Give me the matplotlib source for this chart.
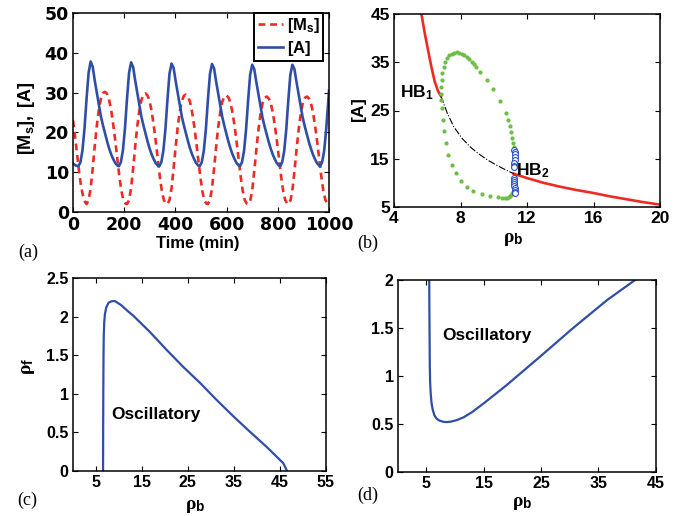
import matplotlib
matplotlib.use('Agg')
import matplotlib.pyplot as plt
from matplotlib.ticker import FuncFormatter

plt.rcParams['font.family'] = ['Liberation Sans', 'DejaVu Sans']
plt.rcParams['font.weight'] = 'bold'
plt.rcParams['axes.labelweight'] = 'bold'
plt.rcParams['mathtext.fontset'] = 'custom'
plt.rcParams['mathtext.rm'] = 'Liberation Serif'
plt.rcParams['mathtext.it'] = 'Liberation Serif:italic'
plt.rcParams['mathtext.bf'] = 'Liberation Sans:bold'
plt.rcParams['axes.linewidth'] = 1.1

# ---------------- data: panel (a) time series ----------------
t_A = [0, 10,
       21, 29, 37, 45, 53, 61, 69, 77, 85, 93, 101, 109, 117, 125, 133, 141, 149, 157, 165, 173,
       179, 187, 195, 203, 211, 219, 227, 235, 243, 251, 259, 267, 275, 283, 291, 299, 307, 315, 323, 331,
       337, 345, 353, 361, 369, 377, 385, 393, 401, 409, 417, 425, 433, 441, 449, 457, 465, 473, 481, 489,
       495, 503, 511, 519, 527, 535, 543, 551, 559, 567, 575, 583, 591, 599, 607, 615, 623, 631, 639, 647,
       652, 660, 668, 676, 684, 692, 700, 708, 716, 724, 732, 740, 748, 756, 764, 772, 780, 788, 796, 804,
       809, 817, 825, 833, 841, 849, 857, 865, 873, 881, 889, 897, 905, 913, 921, 929, 937, 945, 953, 961,
       965, 973, 981, 989, 997, 1000]
A_vals = [12.2, 11.7,
          11.5, 12.5, 15.5, 21.0, 28.5, 35.0, 37.8, 36.5, 33.0, 30.0, 27.0, 24.0, 21.8, 19.8, 17.8, 16.0, 14.5, 13.3, 12.3, 11.7,
          11.5, 12.5, 15.5, 21.0, 28.5, 35.0, 37.6, 36.4, 33.0, 30.0, 27.0, 24.0, 21.8, 19.8, 17.8, 16.0, 14.5, 13.3, 12.3, 11.7,
          11.5, 12.5, 15.4, 20.8, 28.3, 34.8, 37.3, 36.2, 32.9, 29.9, 26.9, 24.0, 21.8, 19.8, 17.8, 16.0, 14.5, 13.3, 12.3, 11.7,
          11.5, 12.5, 15.4, 20.8, 28.2, 34.7, 37.2, 36.1, 32.8, 29.8, 26.8, 23.9, 21.7, 19.7, 17.7, 16.0, 14.5, 13.3, 12.3, 11.7,
          11.5, 12.5, 15.3, 20.7, 28.0, 34.5, 37.0, 35.9, 32.7, 29.7, 26.7, 23.8, 21.6, 19.6, 17.7, 16.0, 14.5, 13.3, 12.3, 11.7,
          11.5, 12.5, 15.3, 20.7, 28.0, 34.5, 37.0, 35.9, 32.7, 29.7, 26.7, 23.8, 21.6, 19.6, 17.7, 16.0, 14.5, 13.3, 12.3, 11.7,
          11.5, 12.5, 15.3, 20.7, 28.0, 30.5]

t_Ms = [0, 8, 16, 24, 32, 40, 48,
        53, 61, 69, 77, 85, 93, 101, 109, 117, 125, 133, 141, 149, 157, 165, 173, 181, 189, 197, 205,
        211, 219, 227, 235, 243, 251, 259, 267, 275, 283, 291, 299, 307, 315, 323, 331, 339, 347, 355, 363,
        369, 377, 385, 393, 401, 409, 417, 425, 433, 441, 449, 457, 465, 473, 481, 489, 497, 505, 513, 521,
        527, 535, 543, 551, 559, 567, 575, 583, 591, 599, 607, 615, 623, 631, 639, 647, 655, 663, 671, 679,
        685, 693, 701, 709, 717, 725, 733, 741, 749, 757, 765, 773, 781, 789, 797, 805, 813, 821, 829, 837,
        842, 850, 858, 866, 874, 882, 890, 898, 906, 914, 922, 930, 938, 946, 954, 962, 970, 978, 986, 994,
        1000]
Ms_vals = [23.0, 19.0, 14.5, 10.0, 6.3, 3.8, 2.4,
           2.0, 3.0, 6.0, 11.0, 16.6, 21.7, 25.7, 28.5, 29.9, 30.2, 29.7, 28.2, 25.6, 22.0, 18.0, 13.5, 9.0, 5.3, 3.0, 2.1,
           2.0, 3.0, 6.0, 11.0, 16.5, 21.5, 25.4, 28.1, 29.5, 29.8, 29.3, 27.9, 25.4, 21.9, 17.9, 13.4, 9.0, 5.3, 3.0, 2.1,
           2.0, 3.0, 6.0, 11.0, 16.4, 21.3, 25.2, 27.9, 29.2, 29.5, 29.0, 27.7, 25.2, 21.8, 17.8, 13.4, 9.0, 5.3, 3.0, 2.1,
           2.0, 3.0, 6.0, 10.9, 16.3, 21.2, 25.0, 27.7, 29.0, 29.3, 28.8, 27.5, 25.0, 21.7, 17.7, 13.3, 8.9, 5.3, 3.0, 2.1,
           2.0, 3.0, 6.0, 10.9, 16.2, 21.0, 24.8, 27.5, 28.7, 29.0, 28.5, 27.2, 24.8, 21.5, 17.6, 13.3, 8.9, 5.3, 3.0, 2.1,
           2.0, 3.0, 6.0, 10.9, 16.2, 21.0, 24.8, 27.5, 28.7, 29.0, 28.5, 27.2, 24.8, 21.5, 17.6, 13.3, 8.9, 5.3, 3.0, 2.1,
           2.3]

# ---------------- data: panel (b) bifurcation diagram ----------------
rho_stable_left = [5.65, 5.85, 6.05, 6.25, 6.45, 6.65, 6.82]
A_stable_left = [45.0, 41.0, 37.5, 34.0, 31.0, 29.0, 28.0]
rho_stable_right = [11.2, 12.0, 13.0, 14.0, 15.0, 16.0, 17.0, 18.0, 19.0, 20.0]
A_stable_right = [11.9, 11.0, 10.0, 9.2, 8.5, 7.9, 7.2, 6.6, 6.0, 5.5]
rho_unstable = [6.82, 7.2, 7.6, 8.1, 8.6, 9.1, 9.6, 10.1, 10.6, 11.2]
A_unstable = [28.0, 24.5, 21.6, 19.2, 17.4, 16.0, 14.8, 13.8, 12.9, 11.9]
rho_lc_stable = [6.80, 6.82, 6.86, 6.91, 6.98, 7.08, 7.20, 7.33, 7.47, 7.62, 7.77, 7.92, 8.07, 8.22,
                 8.37, 8.52, 8.67, 8.80, 8.93, 9.17, 9.58, 9.97, 10.40, 10.74, 10.88, 10.98, 11.06,
                 11.12, 11.17, 11.20, 11.23,
                 6.83, 6.87, 6.93, 7.00, 7.13, 7.27, 7.47, 7.73, 8.01, 8.37, 8.77, 9.27, 9.77, 10.27,
                 10.50, 10.67, 10.80, 10.90, 10.98, 11.05, 11.10, 11.15, 11.20]
A_lc_stable = [28.5, 29.9, 31.4, 32.8, 34.0, 35.0, 35.8, 36.4, 36.8, 37.0, 37.05, 37.0, 36.8, 36.45,
               36.05, 35.6, 35.1, 34.6, 34.1, 33.0, 31.3, 29.5, 27.0, 24.5, 23.0, 21.7, 20.5,
               19.3, 18.2, 17.4, 16.6,
               27.2, 25.5, 23.0, 20.7, 18.2, 15.8, 13.7, 12.0, 10.4, 9.2, 8.3, 7.7, 7.3, 7.0,
               6.9, 6.9, 6.95, 7.1, 7.3, 7.55, 7.85, 8.2, 8.6]
rho_lc_unstable = [11.24, 11.26, 11.25, 11.26, 11.25, 11.24, 11.23, 11.22,
                   11.20, 11.21, 11.22, 11.23, 11.24, 11.25, 11.26, 11.27, 11.27]
A_lc_unstable = [16.9, 16.4, 15.9, 15.3, 14.7, 14.1, 13.6, 13.2,
                 11.0, 10.6, 10.2, 9.8, 9.4, 9.0, 8.6, 8.2, 7.9]

# ---------------- data: panels (c), (d) two-parameter boundaries ----------------
rho_b_c = [6.6, 6.62, 6.65, 6.7, 6.75, 6.85, 7.0, 7.3, 7.8, 8.5, 9.2, 10.5, 12.0, 13.2, 16.8,
           20.4, 24.0, 27.7, 31.3, 34.9, 38.5, 42.2, 45.8, 46.6]
rho_f_c = [0.0, 0.5, 1.0, 1.5, 1.75, 1.92, 2.03, 2.12, 2.18, 2.2, 2.2, 2.15, 2.07, 2.01, 1.80,
           1.57, 1.35, 1.14, 0.92, 0.71, 0.51, 0.31, 0.10, 0.0]
rho_b_d = [5.5, 5.52, 5.55, 5.6, 5.65, 5.75, 5.9, 6.1, 6.4, 6.8, 7.3, 8.0, 8.6, 9.3, 10.3,
           11.5, 13.0, 15.0, 19.0, 24.8, 30.6, 36.5, 41.4]
rho_f_d = [2.0, 1.75, 1.5, 1.1, 0.95, 0.82, 0.72, 0.65, 0.59, 0.555, 0.535, 0.522, 0.52, 0.525,
           0.54, 0.57, 0.625, 0.715, 0.905, 1.2, 1.5, 1.79, 2.0]

BLUE = '#2F4FA6'
RED = '#EE2A24'
GREEN = '#6DBE45'


def fmt(v, pos):
    return '%g' % v


def style(ax, fs, family):
    ax.tick_params(direction='in', top=True, right=True, length=3.5, width=0.8,
                   labelsize=fs, pad=3)
    ax.xaxis.set_major_formatter(FuncFormatter(fmt))
    ax.yaxis.set_major_formatter(FuncFormatter(fmt))
    for lab in ax.get_xticklabels() + ax.get_yticklabels():
        lab.set_family(family)
        lab.set_weight('bold')


fig = plt.figure(figsize=(6.77, 5.16), dpi=100)

# (a)
axa = fig.add_axes([73 / 677, 1 - 212 / 516, 256 / 677, 199 / 516])
axa.plot(t_Ms, Ms_vals, color=RED, lw=1.9, ls=(0, (2.6, 1.8)), label=r'$\mathbf{[M_s]}$')
axa.plot(t_A, A_vals, color=BLUE, lw=1.9, label=r'$\mathbf{[A]}$')
axa.set_xlim(0, 1000)
axa.set_ylim(0, 50)
axa.set_xticks([0, 200, 400, 600, 800, 1000])
axa.set_yticks([0, 10, 20, 30, 40, 50])
style(axa, 12.5, 'DejaVu Sans')
axa.set_xlabel('Time (min)', fontsize=12)
axa.xaxis.set_label_coords(0.488, -0.122)
axa.set_ylabel(r'$\mathbf{[M_s],\ [A]}$', fontsize=13)
axa.yaxis.set_label_coords(-0.14, 0.47)
leg = axa.legend(loc='upper right', bbox_to_anchor=(0.977, 1.0), borderaxespad=0,
                 fontsize=12, handlelength=1.5, handletextpad=0.25, borderpad=0.2,
                 labelspacing=0.2, fancybox=False, framealpha=1, edgecolor='black')
leg.get_frame().set_linewidth(1.4)

# (b)
axb = fig.add_axes([394 / 677, 1 - 207 / 516, 266 / 677, 193 / 516])
axb.plot(rho_stable_left, A_stable_left, color=RED, lw=1.9)
axb.plot(rho_stable_right, A_stable_right, color=RED, lw=1.9)
axb.plot(rho_unstable, A_unstable, color='black', lw=0.8, ls='-.')
axb.plot(rho_lc_stable, A_lc_stable, ls='none', marker='o', ms=3.0, color=GREEN, mew=0)
axb.plot(rho_lc_unstable, A_lc_unstable, ls='none', marker='o', ms=4.2, mfc='white',
         mec='#2F4FBF', mew=0.8)
axb.set_xlim(4, 20)
axb.set_ylim(5, 45)
axb.set_xticks([4, 8, 12, 16, 20])
axb.set_yticks([5, 15, 25, 35, 45])
style(axb, 12.5, 'Liberation Sans')
axb.text(4.36, 27.8, r'$\mathbf{HB_1}$', fontsize=12.5, va='baseline', ha='left')
axb.text(11.34, 11.6, r'$\mathbf{HB_2}$', fontsize=12.5, va='baseline', ha='left')
axb.set_xlabel(r'$\mathrm{\rho}_\mathbf{b}$', fontsize=14)
axb.xaxis.set_label_coords(0.447, -0.125)
axb.set_ylabel(r'$\mathbf{[A]}$', fontsize=12.5)
axb.yaxis.set_label_coords(-0.095, 0.5)

# (c)
axc = fig.add_axes([72.7 / 677, 1 - 471 / 516, 253 / 677, 193 / 516])
axc.plot(rho_b_c, rho_f_c, color=BLUE, lw=1.6)
axc.set_xlim(0, 55)
axc.set_ylim(0, 2.5)
axc.set_xticks([5, 15, 25, 35, 45, 55])
axc.set_yticks([0, 0.5, 1, 1.5, 2, 2.5])
style(axc, 11.5, 'Liberation Sans')
axc.text(18, 0.73, 'Oscillatory', fontsize=12.4, ha='center', va='center')
axc.set_xlabel(r'$\mathrm{\rho}_\mathbf{b}$', fontsize=14)
axc.xaxis.set_label_coords(0.483, -0.14)
axc.set_ylabel(r'$\mathrm{\rho}_\mathbf{f}$', fontsize=14)
axc.yaxis.set_label_coords(-0.14, 0.54)

# (d)
axd = fig.add_axes([397.7 / 677, 1 - 472 / 516, 258 / 677, 192 / 516])
axd.plot(rho_b_d, rho_f_d, color=BLUE, lw=1.6)
axd.set_xlim(0, 45)
axd.set_ylim(0, 2)
axd.set_xticks([5, 15, 25, 35, 45])
axd.set_yticks([0, 0.5, 1, 1.5, 2])
style(axd, 11.5, 'Liberation Sans')
axd.text(15.6, 1.42, 'Oscillatory', fontsize=12.4, ha='center', va='center')
axd.set_xlabel(r'$\mathrm{\rho}_\mathbf{b}$', fontsize=14)
axd.xaxis.set_label_coords(0.482, -0.12)

# panel letters
for x, y, s in [(28, 252, '(a)'), (368, 243, '(b)'), (27, 500, '(c)'), (368, 495, '(d)')]:
    fig.text(x / 677, 1 - y / 516, s, ha='center', va='center', fontsize=13,
             family='Liberation Serif', weight='normal')

fig.savefig('out.png', dpi=100)
